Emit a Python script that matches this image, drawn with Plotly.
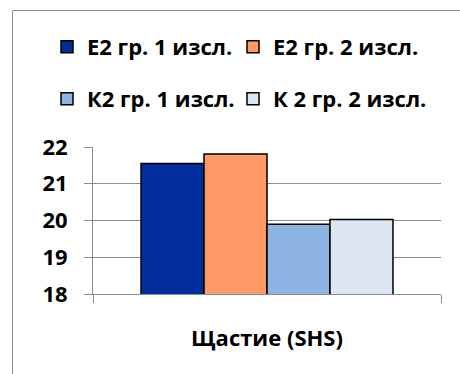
import plotly.graph_objects as go

# Survey results: happiness score (SHS) per group and measurement
category = ["Щастие (SHS)"]
series_names = ["Е2 гр. 1 изсл.", "Е2 гр. 2 изсл.", "К2 гр. 1 изсл.", "К 2 гр. 2 изсл."]
series_values = [21.55, 21.81, 19.90, 20.03]
series_colors = ["#002D9B", "#FF9966", "#8EB4E3", "#DCE6F2"]
y_ticks = [18, 19, 20, 21, 22]

FONT = "Open Sans"
GRID = "#8C8C8C"

W, H = 460, 374
L, R, T, B = 93, 19, 147, 80
pw, ph = W - L - R, H - T - B

def px_x(x):
    return (x - L) / pw

def px_y(y):
    return (H - B - y) / ph

# one legend per entry, laid out as a 2x2 grid above the plot
legend_ids = ["legend", "legend2", "legend3", "legend4"]
legend_pos = [(47, 47), (233, 47), (47, 99), (233, 99)]

fig = go.Figure()
for name, val, color, leg in zip(series_names, series_values, series_colors, legend_ids):
    fig.add_trace(go.Bar(
        x=category, y=[val], name=name,
        marker=dict(color=color, line=dict(color="#000000", width=1.5)),
        legend=leg,
    ))

legend_style = dict(
    orientation="h", xanchor="left", yanchor="middle",
    font=dict(family=FONT, size=22, color="#000000", weight="bold"),
    bgcolor="rgba(0,0,0,0)", itemclick=False,
)
legends = {
    lid: dict(x=px_x(lx), y=px_y(ly), **legend_style)
    for lid, (lx, ly) in zip(legend_ids, legend_pos)
}

# chart-area frame: left and top edges (the rest runs off the page)
frame = [
    dict(type="line", xref="paper", yref="paper",
         x0=px_x(12.5), x1=px_x(12.5), y0=px_y(10.5), y1=px_y(H + 5),
         line=dict(color="#8C8C8C", width=1), layer="above"),
    dict(type="line", xref="paper", yref="paper",
         x0=px_x(12.5), x1=px_x(W + 5), y0=px_y(10.5), y1=px_y(10.5),
         line=dict(color="#8C8C8C", width=1), layer="above"),
]

fig.update_layout(
    width=W, height=H,
    margin=dict(l=L, r=R, t=T, b=B),
    paper_bgcolor="#FFFFFF", plot_bgcolor="#FFFFFF",
    barmode="group", bargap=0.276, bargroupgap=0,
    showlegend=True,
    font=dict(family=FONT, color="#000000"),
    xaxis=dict(
        showline=True, linecolor=GRID, linewidth=1,
        ticks="outside", tickson="boundaries", ticklen=8, tickcolor=GRID,
        tickfont=dict(family=FONT, size=22, color="#000000", weight="bold"),
        ticklabelstandoff=25,
        showgrid=False,
    ),
    yaxis=dict(
        range=[18, 22], tickvals=y_ticks,
        showline=True, linecolor=GRID, linewidth=1,
        ticks="outside", ticklen=8, tickcolor=GRID,
        showgrid=True, gridcolor=GRID, gridwidth=1,
        tickfont=dict(family=FONT, size=22, color="#000000", weight="bold"),
        ticklabelstandoff=12,
        zeroline=False,
    ),
    shapes=frame,
    **legends,
)

fig.write_html("out.html")
